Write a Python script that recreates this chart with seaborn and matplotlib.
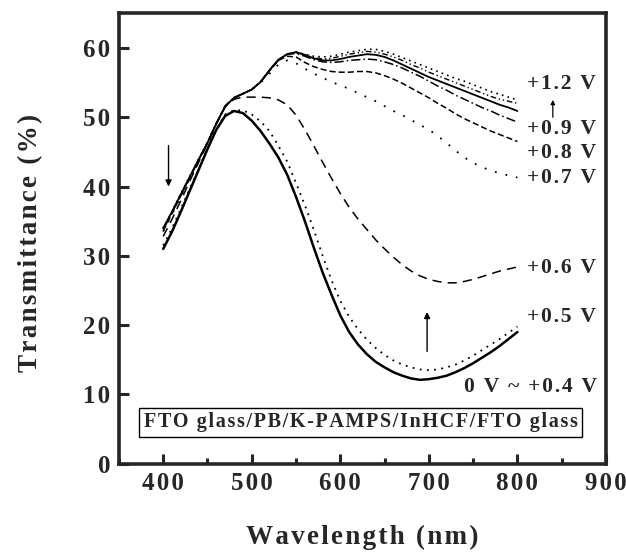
import numpy as np
import pandas as pd
import matplotlib
matplotlib.use("Agg")
import matplotlib.pyplot as plt
from matplotlib.ticker import MultipleLocator, FixedLocator, FixedFormatter
import seaborn as sns

sns.set_style("ticks")
plt.rcParams['font.family'] = ['Liberation Serif', 'DejaVu Serif']
plt.rcParams['font.weight'] = 'bold'

# wavelength grid (nm)
wl = list(range(400, 801, 10))

# transmittance (%)
t_0_04 = [31.0, 33.5, 36.4, 39.4, 42.4, 45.4, 48.2, 50.2, 50.9, 50.6, 49.5, 48.0, 46.2, 44.2, 41.7,
          38.5, 35.0, 31.2, 27.6, 24.4, 21.4, 19.0, 17.2, 15.8, 14.7, 13.9, 13.2, 12.7, 12.3, 12.1,
          12.2, 12.4, 12.7, 13.2, 13.8, 14.5, 15.3, 16.1, 17.0, 18.0, 19.0]
t_05 = [31.5, 34.0, 36.8, 39.7, 42.6, 45.5, 48.3, 50.4, 51.0, 51.0, 50.4, 49.4, 48.0, 45.9, 43.6,
        40.5, 37.3, 33.8, 30.0, 26.5, 23.5, 21.2, 19.4, 17.9, 16.7, 15.7, 14.9, 14.3, 13.9, 13.6,
        13.5, 13.6, 13.9, 14.3, 14.9, 15.6, 16.4, 17.2, 18.0, 18.9, 19.8]
t_06 = [32.8, 35.3, 38.0, 40.8, 43.5, 46.2, 49.0, 51.5, 52.6, 52.9, 52.9, 52.9, 52.8, 52.5, 51.8,
        50.3, 48.2, 45.9, 43.5, 41.2, 39.0, 37.0, 35.3, 33.8, 32.3, 31.0, 29.8, 28.7, 27.8, 27.1,
        26.6, 26.3, 26.1, 26.1, 26.3, 26.6, 27.0, 27.4, 27.8, 28.1, 28.4]
t_07 = [33.5, 36.0, 38.6, 41.2, 43.8, 46.3, 49.1, 51.6, 52.8, 53.4, 54.0, 55.0, 56.3, 57.6, 58.2,
        57.8, 57.0, 56.3, 55.7, 55.1, 54.6, 54.1, 53.5, 52.9, 52.3, 51.6, 50.9, 50.3, 49.6, 48.9,
        48.2, 47.3, 46.3, 45.2, 44.2, 43.4, 42.8, 42.3, 41.9, 41.6, 41.3]
t_08 = [33.6, 36.1, 38.7, 41.3, 43.8, 46.3, 49.1, 51.6, 52.8, 53.4, 54.0, 55.1, 56.7, 58.2, 58.8,
        58.7, 57.9, 57.3, 56.9, 56.6, 56.5, 56.5, 56.6, 56.6, 56.4, 56.0, 55.5, 54.9, 54.2, 53.5,
        52.8, 52.0, 51.3, 50.5, 49.8, 49.2, 48.6, 48.0, 47.5, 47.0, 46.5]
t_09 = [33.8, 36.2, 38.8, 41.3, 43.8, 46.3, 49.1, 51.6, 52.8, 53.4, 54.0, 55.1, 56.7, 58.2, 59.1,
        59.2, 58.8, 58.3, 58.0, 57.9, 58.0, 58.2, 58.3, 58.4, 58.3, 58.0, 57.6, 57.1, 56.5, 55.9,
        55.2, 54.5, 53.9, 53.2, 52.6, 52.0, 51.4, 50.9, 50.3, 49.8, 49.3]
t_10 = [34.0, 36.4, 38.9, 41.4, 43.9, 46.3, 49.1, 51.6, 52.8, 53.4, 54.0, 55.1, 56.8, 58.3, 59.1,
        59.4, 59.0, 58.5, 58.2, 58.2, 58.4, 58.7, 58.9, 59.1, 59.0, 58.7, 58.2, 57.6, 57.0, 56.4,
        55.8, 55.3, 54.8, 54.3, 53.8, 53.3, 52.8, 52.3, 51.8, 51.4, 50.9]
t_11 = [33.9, 36.3, 38.9, 41.4, 43.9, 46.3, 49.1, 51.6, 52.8, 53.4, 54.0, 55.1, 56.8, 58.3, 59.1,
        59.3, 59.0, 58.6, 58.4, 58.5, 58.8, 59.1, 59.3, 59.5, 59.4, 59.1, 58.7, 58.2, 57.6, 57.1,
        56.5, 56.0, 55.5, 55.0, 54.5, 54.0, 53.5, 53.0, 52.6, 52.3, 52.0]
t_12 = [34.0, 36.4, 39.0, 41.5, 44.0, 46.4, 49.1, 51.6, 52.8, 53.4, 54.0, 55.1, 56.8, 58.3, 59.1,
        59.4, 59.1, 58.8, 58.7, 58.8, 59.1, 59.4, 59.6, 59.8, 59.8, 59.5, 59.1, 58.6, 58.1, 57.6,
        57.1, 56.6, 56.1, 55.6, 55.2, 54.7, 54.2, 53.7, 53.3, 52.9, 52.5]

series = [t_0_04, t_05, t_06, t_07, t_08, t_09, t_10, t_11, t_12]
styles = [('-', 1.8), ((0, (1, 3)), 1.3), ((0, (6, 4)), 1.1), ((0, (1, 5)), 1.3),
          ((0, (4, 2)), 1.1), ((0, (6, 2, 1, 2)), 1.1), ('-', 1.3),
          ((0, (4, 2, 1, 2, 1, 2)), 1.0), ((0, (1, 2.5)), 1.2)]

labels = ['0 V ~ +0.4 V', '+0.5 V', '+0.6 V', '+0.7 V', '+0.8 V', '+0.9 V', '+1.2 V']
label_y = [11.0, 21.2, 28.3, 41.3, 44.8, 48.3, 54.8]
label_x = [740, 811, 811, 811, 811, 811, 811]

x_ticks = [400, 500, 600, 700, 800, 900]
y_ticks = [0, 10, 20, 30, 40, 50, 60]

HS = '\u200a'  # hair space, imitates the slightly wide letter spacing of the original


def spaced(s):
    return HS.join(s)


fig = plt.figure(figsize=(6.26, 5.54), dpi=100)
ax = fig.add_axes([0.19, 0.163, 0.778, 0.813])

for vals, (ls, lw) in zip(series, styles):
    sns.lineplot(x=wl, y=vals, ax=ax, color='black', linestyle=ls, linewidth=lw)

for lab, lx, ly in zip(labels, label_x, label_y):
    ax.text(lx, ly, spaced(lab), fontsize=15.5, fontweight='bold', va='center', ha='left')

# arrows
ax.annotate('', xy=(406, 39.6), xytext=(406, 46.3),
            arrowprops=dict(arrowstyle='-|>', color='black', lw=1.0, mutation_scale=9))
ax.annotate('', xy=(698, 22.3), xytext=(698, 15.8),
            arrowprops=dict(arrowstyle='-|>', color='black', lw=1.0, mutation_scale=9))
ax.annotate('', xy=(840, 52.9), xytext=(840, 49.6),
            arrowprops=dict(arrowstyle='-|>', color='black', lw=0.9, mutation_scale=6))

ax.text(623, 6.0, spaced('FTO glass/PB/K-PAMPS/InHCF/FTO glass'), fontsize=14.5, fontweight='bold',
        ha='center', va='center',
        bbox=dict(boxstyle='square,pad=0.22', fc='white', ec='black', lw=1.0))

ax.set_xlim(350, 900)
ax.set_ylim(0, 65)
ax.xaxis.set_major_locator(FixedLocator(x_ticks))
ax.xaxis.set_major_formatter(FixedFormatter([spaced(str(v)) for v in x_ticks]))
ax.xaxis.set_minor_locator(MultipleLocator(50))
ax.yaxis.set_major_locator(FixedLocator(y_ticks))
ax.yaxis.set_major_formatter(FixedFormatter([spaced(str(v)) for v in y_ticks]))
ax.tick_params(which='major', direction='in', length=7, width=2.2, labelsize=18, pad=6)
ax.tick_params(which='minor', direction='in', length=4, width=2.2)
ax.tick_params(axis='x', which='both', top=False)
ax.tick_params(axis='y', which='both', right=False)
for lab in ax.get_xticklabels() + ax.get_yticklabels():
    lab.set_fontweight('bold')
for sp in ax.spines.values():
    sp.set_linewidth(2.6)

ax.set_xlabel(spaced('Wavelength (nm)'), fontsize=19.5, fontweight='bold')
ax.set_ylabel(spaced('Transmittance (%)'), fontsize=19.5, fontweight='bold')
ax.xaxis.set_label_coords(0.5, -0.135)
ax.yaxis.set_label_coords(-0.155, 0.49)

fig.savefig('out.png', dpi=100)
